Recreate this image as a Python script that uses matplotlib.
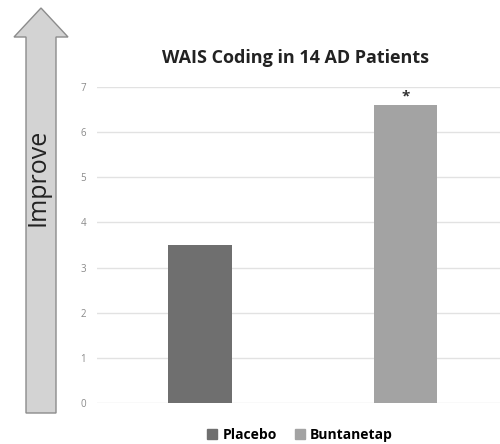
import matplotlib.pyplot as plt
import matplotlib.patches as patches

# du lieu
series = ['Placebo', 'Buntanetap']
values = [3.5, 6.6]
colors = ['#6f6f6f', '#a3a3a3']
yticks = [0, 1, 2, 3, 4, 5, 6, 7]

plt.rcParams['font.family'] = ['Open Sans', 'DejaVu Sans']

fig = plt.figure(figsize=(5, 4.44), dpi=100)
ax = fig.add_axes([0.194, 0.0923, 0.806, 0.7117])

xs = [0, 1]
ax.bar(xs, values, width=0.31, color=colors, label=series, zorder=3)
ax.set_ylim(0, 7)
ax.set_xlim(-0.5, 1.46)
ax.set_yticks(yticks)
ax.set_xticks([])
ax.grid(axis='y', color='#e2e2e2', linewidth=1, zorder=0)
for s in ax.spines.values():
    s.set_visible(False)
ax.tick_params(axis='y', length=0, labelsize=7, labelcolor='#8a8a8a', pad=8)

# dau sao
ax.text(xs[1], values[1] + 0.04, '*', ha='center', va='bottom', fontsize=11,
        fontweight='bold', color='#333333')

# tieu de
fig.text(0.592, 0.87, 'WAIS Coding in 14 AD Patients', ha='center', va='center',
         fontsize=13, fontweight='bold', color='#222222')

# chu thich
handles = [patches.Patch(color=c) for c in colors]
fig.legend(handles, series, loc='center', bbox_to_anchor=(0.6, 0.02), ncol=2,
           frameon=False, handlelength=0.7, handleheight=0.7,
           columnspacing=1.3, handletextpad=0.4, prop={'weight': 'bold', 'size': 10})

# mui ten "Improve"
arrow = patches.FancyArrow(41 / 500, 1 - 413 / 444, 0, (413 - 8) / 444,
                           width=30 / 500, head_width=54 / 500, head_length=29 / 444,
                           length_includes_head=True, transform=fig.transFigure,
                           facecolor='#d3d3d3', edgecolor='#8c8c8c', linewidth=1)
fig.add_artist(arrow)
fig.text(38 / 500, 1 - 177 / 444, 'Improve', rotation=90, ha='center', va='center',
         fontsize=18, color='#222222')

fig.savefig('out.png', dpi=100)
